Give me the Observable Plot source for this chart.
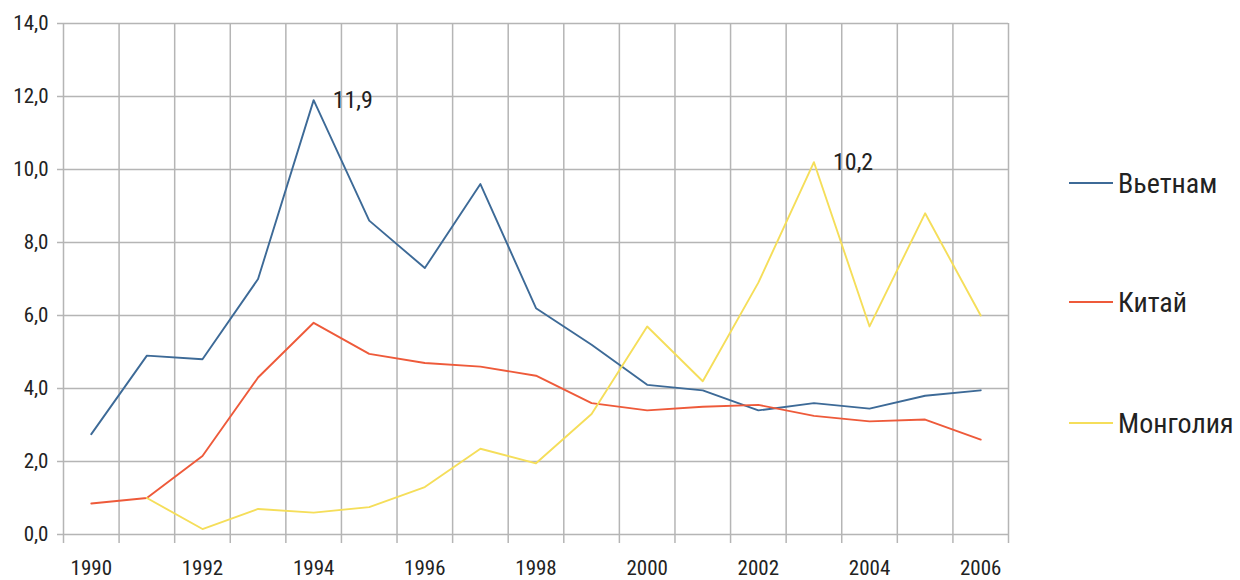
<!DOCTYPE html>
<html>
<head>
<meta charset="utf-8">
<script src="https://cdn.jsdelivr.net/npm/d3@7"></script>
<script src="https://cdn.jsdelivr.net/npm/@observablehq/plot@0.6"></script>
<style>
  html, body { margin: 0; padding: 0; background: #fff; }
  #wrap { position: relative; width: 1240px; height: 580px; font-family: "Liberation Sans Narrow", "Arial Narrow", "Roboto Condensed", "Liberation Sans", sans-serif; }
  .leg { position: absolute; left: 1069px; display: flex; align-items: center; font-size: 28px; color: #222; white-space: nowrap; }
  .leg .sw { width: 44px; height: 0; border-top: 2px solid; margin-right: 5px; }
</style>
</head>
<body>
<div id="wrap"></div>
<script>
const years = [1990,1991,1992,1993,1994,1995,1996,1997,1998,1999,2000,2001,2002,2003,2004,2005,2006];
const vietnam  = [2.75,4.9,4.8,7.0,11.9,8.6,7.3,9.6,6.2,5.2,4.1,3.95,3.4,3.6,3.45,3.8,3.95];
const china    = [0.85,1.0,2.15,4.3,5.8,4.95,4.7,4.6,4.35,3.6,3.4,3.5,3.55,3.25,3.1,3.15,2.6];
const mongolia = [null,1.0,0.15,0.7,0.6,0.75,1.3,2.35,1.95,3.3,5.7,4.2,6.9,10.2,5.7,8.8,6.0];
const seriesNames  = ["Вьетнам", "Китай", "Монголия"];
const seriesColors = ["#3d6a97", "#ee5a3a", "#f5de5a"];
const xTickYears = [1990,1992,1994,1996,1998,2000,2002,2004,2006];
const yTicks = [0,2,4,6,8,10,12,14];

const seriesValues = [vietnam, china, mongolia];
const rows = [];
seriesNames.forEach((name, s) => {
  years.forEach((yr, i) => {
    const v = seriesValues[s][i];
    if (v != null) rows.push({series: name, year: yr, value: v});
  });
});
const bounds = years.map(y => y - 0.5).concat([years[years.length - 1] + 0.5]);
const fmt = d => d.toFixed(1).replace(".", ",");

// peak annotations for Vietnam and Mongolia
const peaks = [vietnam, mongolia].map((arr) => {
  let bi = 0;
  arr.forEach((v, i) => { if (v != null && (arr[bi] == null || v > arr[bi])) bi = i; });
  return {year: years[bi], value: arr[bi]};
});

const font = '"Liberation Sans Narrow", "Arial Narrow", "Roboto Condensed", "Liberation Sans", sans-serif';
const grid = "#b5b5b5";

const chart = Plot.plot({
  width: 1240,
  height: 580,
  marginLeft: 63,
  marginRight: 232,
  marginTop: 23,
  marginBottom: 46,
  style: {fontFamily: font, fontSize: "21px", color: "#222", background: "#fff"},
  x: {domain: [bounds[0], bounds[bounds.length - 1]], label: null},
  y: {domain: [0, 14], label: null},
  color: {domain: seriesNames, range: seriesColors},
  marks: [
    Plot.ruleX(bounds, {stroke: grid, strokeWidth: 1.5}),
    Plot.ruleY(yTicks, {stroke: grid, strokeWidth: 1.5}),
    Plot.axisX(bounds, {tickSize: 9, tickFormat: () => "", stroke: grid, strokeWidth: 1.5, label: null}),
    Plot.axisX(xTickYears, {tickSize: 0, tickPadding: 26, tickFormat: d => String(d), fill: "#222", fontSize: 21, label: null}),
    Plot.axisY(yTicks, {tickSize: 6, tickPadding: 9, tickFormat: fmt, stroke: grid, strokeWidth: 1.5, fill: "#222", fontSize: 21, label: null}),
    Plot.line(rows, {x: "year", y: "value", z: "series", stroke: "series", strokeWidth: 1.9, curve: "linear"}),
    Plot.text(peaks, {x: "year", y: "value", text: d => fmt(d.value), dx: 19, textAnchor: "start", fontSize: 24, fill: "#222"})
  ]
});

const wrap = document.getElementById("wrap");
wrap.appendChild(chart);

const legendTops = [183, 302, 423];
seriesNames.forEach((name, i) => {
  const item = document.createElement("div");
  item.className = "leg";
  item.style.top = (legendTops[i] - 17) + "px";
  item.style.height = "34px";
  const sw = document.createElement("span");
  sw.className = "sw";
  sw.style.borderTopColor = seriesColors[i];
  const label = document.createElement("span");
  label.textContent = name;
  item.appendChild(sw);
  item.appendChild(label);
  wrap.appendChild(item);
});
</script>
</body>
</html>
